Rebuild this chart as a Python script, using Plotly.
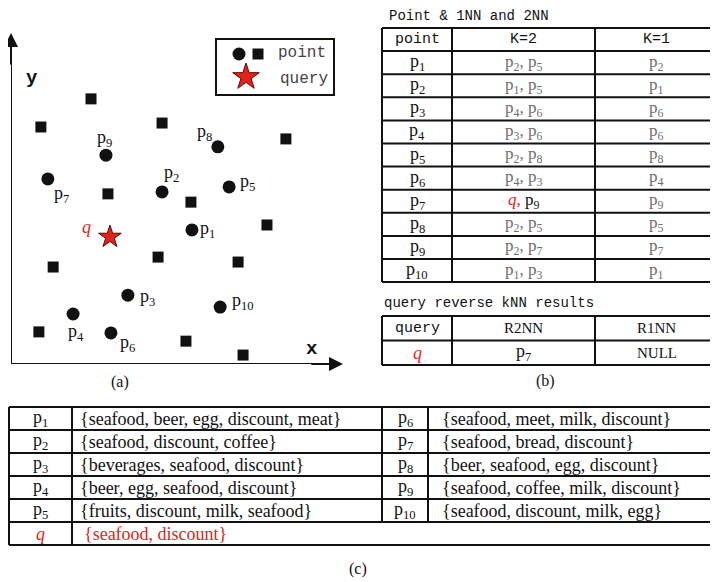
import plotly.graph_objects as go

# ---------------- data ----------------
point_names = ["p1", "p2", "p3", "p4", "p5", "p6", "p7", "p8", "p9", "p10"]
point_x = [5.45, 4.55, 3.52, 1.87, 6.57, 3.01, 1.11, 6.23, 2.86, 6.30]
point_y = [4.05, 5.20, 2.08, 1.51, 5.35, 0.94, 5.59, 6.56, 6.31, 1.72]
other_x = [2.41, 0.90, 4.55, 8.28, 2.92, 5.42, 7.71, 1.27, 4.43, 6.84, 0.84, 5.27, 6.99]
other_y = [8.01, 7.16, 7.28, 6.80, 5.14, 4.89, 4.20, 2.93, 3.23, 3.08, 0.97, 0.69, 0.27]
query_name = "q"
query_x = [2.98]
query_y = [3.84]

knn_title = "Point & 1NN and 2NN"
knn_headers = ["point", "K=2", "K=1"]
k2_neighbors = [["p2", "p5"], ["p1", "p5"], ["p4", "p6"], ["p3", "p6"], ["p2", "p8"],
                ["p4", "p3"], ["q", "p9"], ["p2", "p5"], ["p2", "p7"], ["p1", "p3"]]
k1_neighbor = ["p2", "p1", "p6", "p6", "p8", "p4", "p9", "p5", "p7", "p1"]

rknn_title = "query reverse kNN results"
rknn_headers = ["query", "R2NN", "R1NN"]
rknn_row = ["q", "p7", "NULL"]

keywords = ["{seafood, beer, egg, discount, meat}",
            "{seafood, discount, coffee}",
            "{beverages, seafood, discount}",
            "{beer, egg, seafood, discount}",
            "{fruits, discount, milk, seafood}",
            "{seafood, meet, milk, discount}",
            "{seafood, bread, discount}",
            "{beer, seafood, egg, discount}",
            "{seafood, coffee, milk, discount}",
            "{seafood, discount, milk, egg}"]
query_keywords = "{seafood, discount}"

legend_labels = ["point", "query"]
panel_labels = ["(a)", "(b)", "(c)"]

# ---------------- styles / layout constants ----------------
RED = "#e3231b"
GRAY = "#6e6e6e"
SERIF = "Liberation Serif"
MONO = "Liberation Mono"
OX, OY = 8, 8            # page body margin offset
W, H = 710, 574          # figure size so the page fills the 718x582 window
# label offsets (px, dx right, dy down) for point labels
label_off = [(16, 0), (9, -18), (20, 2), (3, 18), (18, -4), (17, 11), (14, 16),
             (-13, -14), (-1, -17), (23, -6)]
query_off = (-23, -10)


def fmt(name, color=None):
    if name == "q":
        return f"<span style='color:{RED}'><i>q</i></span>"
    s = f"p<sub>{name[1:]}</sub>" if name.startswith("p") else name
    if color:
        s = f"<span style='color:{color}'>{s}</span>"
    return s


def fmt_list(names):
    if "q" in names:
        parts = []
        for n in names:
            if n == "q":
                parts.append(f"<span style='color:{RED}'><i>q,</i></span>")
            else:
                parts.append(fmt(n))
        return " ".join(parts)
    return f"<span style='color:{GRAY}'>" + ", ".join(fmt(n) for n in names) + "</span>"


fig = go.Figure()

# ---------------- scatter (a) ----------------
fig.add_trace(go.Scatter(x=other_x, y=other_y, mode="markers",
                         marker=dict(symbol="square", size=11, color="#111"),
                         cliponaxis=False, xaxis="x", yaxis="y", showlegend=False))
fig.add_trace(go.Scatter(x=point_x, y=point_y, mode="markers",
                         marker=dict(symbol="circle", size=13, color="#111"),
                         cliponaxis=False, xaxis="x", yaxis="y", showlegend=False))
fig.add_trace(go.Scatter(x=query_x, y=query_y, mode="markers",
                         marker=dict(symbol="star", size=17, color=RED,
                                     line=dict(color="#5a0a05", width=1)),
                         cliponaxis=False, xaxis="x", yaxis="y", showlegend=False))

annotations = []
shapes = []

for name, x, y, (dx, dy) in zip(point_names, point_x, point_y, label_off):
    annotations.append(dict(x=x, y=y, xref="x", yref="y", text=fmt(name),
                            showarrow=False, xshift=dx, yshift=-dy,
                            font=dict(family=SERIF, size=18, color="#111")))
annotations.append(dict(x=query_x[0], y=query_y[0], xref="x", yref="y",
                        text=fmt(query_name), showarrow=False,
                        xshift=query_off[0], yshift=-query_off[1],
                        font=dict(family=SERIF, size=18, color=RED)))

# axes lines + arrows
shapes.append(dict(type="line", xref="x", yref="y", x0=0, y0=0, x1=9.8, y1=0,
                   line=dict(color="#111", width=2)))
shapes.append(dict(type="line", xref="x", yref="y", x0=0, y0=0, x1=0, y1=9.8,
                   line=dict(color="#111", width=2)))
annotations.append(dict(x=10, y=0, ax=9, ay=0, xref="x", yref="y", axref="x", ayref="y",
                        text="", showarrow=True, arrowhead=2, arrowsize=1.4,
                        arrowwidth=2, arrowcolor="#111", standoff=0, startstandoff=0))
annotations.append(dict(x=0, y=10, ax=0, ay=9, xref="x", yref="y", axref="x", ayref="y",
                        text="", showarrow=True, arrowhead=2, arrowsize=1.4,
                        arrowwidth=2, arrowcolor="#111", standoff=0, startstandoff=0))
annotations.append(dict(x=32, y=78, xref="x2", yref="y2", text="<b>y</b>", showarrow=False,
                        font=dict(family=MONO, size=19, color="#111")))
annotations.append(dict(x=311, y=349, xref="x2", yref="y2", text="<b>x</b>", showarrow=False,
                        font=dict(family=MONO, size=19, color="#111")))

# legend box
shapes.append(dict(type="rect", xref="x2", yref="y2", x0=216, y0=39, x1=334, y1=95,
                   line=dict(color="#111", width=2)))
fig.add_trace(go.Scatter(x=[239], y=[54], mode="markers", xaxis="x2", yaxis="y2",
                         marker=dict(symbol="circle", size=13, color="#111"), showlegend=False))
fig.add_trace(go.Scatter(x=[258], y=[54], mode="markers", xaxis="x2", yaxis="y2",
                         marker=dict(symbol="square", size=11, color="#111"), showlegend=False))
fig.add_trace(go.Scatter(x=[246], y=[77], mode="markers", xaxis="x2", yaxis="y2",
                         marker=dict(symbol="star", size=20, color=RED,
                                     line=dict(color="#5a0a05", width=1)), showlegend=False))
annotations.append(dict(x=328, y=53, xref="x2", yref="y2", text=legend_labels[0],
                        xanchor="right", showarrow=False,
                        font=dict(family=MONO, size=16, color="#444")))
annotations.append(dict(x=330, y=79, xref="x2", yref="y2", text=legend_labels[1],
                        xanchor="right", showarrow=False,
                        font=dict(family=MONO, size=16, color="#444")))


# ---------------- tables (b) ----------------
def hline(x0, x1, y):
    shapes.append(dict(type="line", xref="x2", yref="y2", x0=x0, x1=x1, y0=y, y1=y,
                       line=dict(color="#111", width=2)))


def vline(x, y0, y1):
    shapes.append(dict(type="line", xref="x2", yref="y2", x0=x, x1=x, y0=y0, y1=y1,
                       line=dict(color="#111", width=2)))


def cell_text(x, y, text, size=16, family=SERIF, color="#111", anchor="center"):
    annotations.append(dict(x=x, y=y, xref="x2", yref="y2", text=text, showarrow=False,
                            xanchor=anchor, yanchor="middle",
                            font=dict(family=family, size=size, color=color)))


BX = [382, 452, 595, 718]
B_TOP, B_RH = 28, 23.1
annotations.append(dict(x=387, y=16, xref="x2", yref="y2", text=knn_title, showarrow=False,
                        xanchor="left", yanchor="middle",
                        font=dict(family=MONO, size=14, color="#111")))
n_rows = len(point_names) + 1
for i in range(n_rows + 1):
    hline(BX[0], BX[3] + 5, B_TOP + i * B_RH)
for xv in BX[:3]:
    vline(xv, B_TOP, B_TOP + n_rows * B_RH)
centers = [(BX[j] + BX[j + 1]) / 2 for j in range(3)]
for j, h in enumerate(knn_headers):
    cell_text(centers[j], B_TOP + B_RH / 2, h, size=15, family=MONO)
for i, name in enumerate(point_names):
    yc = B_TOP + (i + 1.5) * B_RH
    cell_text(centers[0], yc, fmt(name), size=18)
    cell_text(centers[1], yc, fmt_list(k2_neighbors[i]), size=17)
    cell_text(centers[2], yc, fmt(k1_neighbor[i], GRAY), size=17)

R_TOP, R_RH = 316, 24.5
annotations.append(dict(x=382, y=303, xref="x2", yref="y2", text=rknn_title, showarrow=False,
                        xanchor="left", font=dict(family=MONO, size=14, color="#111")))
for i in range(3):
    hline(BX[0], BX[3] + 5, R_TOP + i * R_RH)
for xv in BX[:3]:
    vline(xv, R_TOP, R_TOP + 2 * R_RH)
for j, h in enumerate(rknn_headers):
    cell_text(centers[j], R_TOP + R_RH / 2, h, size=15, family=MONO if j == 0 else SERIF)
cell_text(centers[0], R_TOP + 1.5 * R_RH, fmt(rknn_row[0]), size=18)
cell_text(centers[1], R_TOP + 1.5 * R_RH, fmt(rknn_row[1]), size=18)
cell_text(centers[2], R_TOP + 1.5 * R_RH, rknn_row[2], size=15)

# ---------------- table (c) ----------------
CX = [9, 72, 382, 428, 718]
C_TOP, C_RH = 407, 23
half = len(point_names) // 2
for i in range(half + 2):
    hline(CX[0], CX[4] + 5, C_TOP + i * C_RH)
vline(CX[0], C_TOP, C_TOP + (half + 1) * C_RH)
vline(CX[1], C_TOP, C_TOP + (half + 1) * C_RH)
vline(CX[2], C_TOP, C_TOP + half * C_RH)
vline(CX[3], C_TOP, C_TOP + half * C_RH)
for i in range(half):
    yc = C_TOP + (i + 0.5) * C_RH
    cell_text((CX[0] + CX[1]) / 2, yc, fmt(point_names[i]), size=18)
    cell_text(CX[1] + 6, yc, keywords[i], size=18, anchor="left")
    cell_text((CX[2] + CX[3]) / 2, yc, fmt(point_names[half + i]), size=18)
    cell_text(CX[3] + 12, yc, keywords[half + i], size=18, anchor="left")
yq = C_TOP + (half + 0.5) * C_RH
cell_text((CX[0] + CX[1]) / 2, yq, fmt(query_name), size=18)
cell_text(CX[1] + 10, yq, query_keywords, size=18, color=RED, anchor="left")

# panel labels
cell_text(120, 382, panel_labels[0], size=16)
cell_text(545, 381, panel_labels[1], size=16)
cell_text(358, 569, panel_labels[2], size=16)

fig.update_layout(
    width=W, height=H, margin=dict(l=0, r=0, t=0, b=0),
    paper_bgcolor="white", plot_bgcolor="rgba(0,0,0,0)",
    xaxis=dict(domain=[(11 - OX) / W, (343 - OX) / W], range=[0, 10],
               visible=False, anchor="y"),
    yaxis=dict(domain=[1 - (364 - OY) / H, 1 - (33 - OY) / H], range=[0, 10],
               visible=False, anchor="x"),
    xaxis2=dict(domain=[0, 1], range=[OX, OX + W], visible=False, anchor="y2"),
    yaxis2=dict(domain=[0, 1], range=[OY + H, OY], visible=False, anchor="x2"),
    annotations=annotations, shapes=shapes, showlegend=False,
)
fig.write_html("out.html")
